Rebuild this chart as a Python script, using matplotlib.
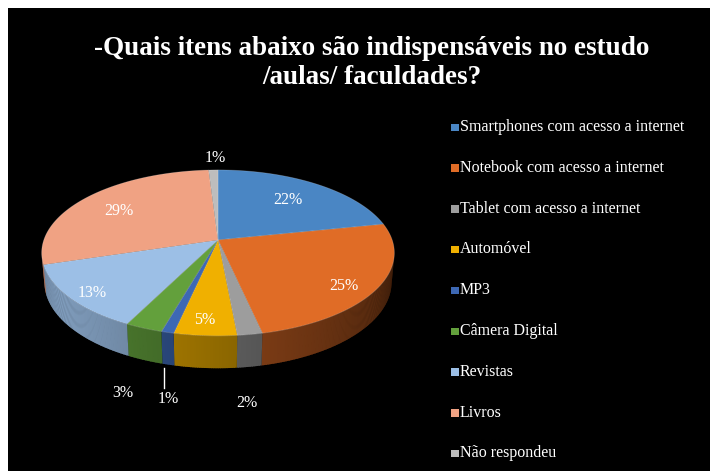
import numpy as np
import matplotlib.pyplot as plt
from matplotlib.patches import Polygon, Rectangle
from matplotlib.colors import to_rgb

# dados da pesquisa (%)
categorias = ["Smartphones com acesso a internet", "Notebook com acesso a internet",
              "Tablet com acesso a internet", "Automóvel", "MP3", "Câmera Digital",
              "Revistas", "Livros", "Não respondeu"]
valores = [22, 25, 2, 5, 1, 3, 13, 29, 1]
cores = ["#4a86c4", "#e06c26", "#9d9d9d", "#f0b000", "#3d68b4", "#63a03c",
         "#9cbfe6", "#f0a283", "#bdbdbd"]
titulo = "-Quais itens abaixo são indispensáveis no estudo\n/aulas/ faculdades?"

plt.rcParams['font.family'] = ['Liberation Serif', 'DejaVu Serif']

W, H = 710, 471
fig = plt.figure(figsize=(W / 100, H / 100), dpi=100, facecolor='white')
ax = fig.add_axes([0, 0, 1, 1])
ax.set_xlim(0, W)
ax.set_ylim(H, 0)
ax.axis('off')
ax.add_patch(Rectangle((8, 8), W - 8, H - 8, facecolor='black', edgecolor='none'))

# projecao em perspectiva do disco
phi = np.radians(27.7)
dist = 5.7
esp = 0.19
cx, cy, S = 218, 240, 993


def proj(r, th, z=0.0):
    x = r * np.cos(th)
    y = r * np.sin(th)
    d = dist + y * np.cos(phi) - z * np.sin(phi)
    xs = x / d
    ys = (y * np.sin(phi) + z * np.cos(phi)) / d
    return cx + S * xs, cy - S * ys


def escurecer(c, f):
    r, g, b = to_rgb(c)
    return (r * f, g * f, b * f)


total = sum(valores)
frac = np.array(valores) / total
ini = np.concatenate([[0], np.cumsum(frac)[:-1]])
th0 = np.radians(90 - ini * 360)
th1 = np.radians(90 - (ini + frac) * 360)

# paredes laterais (apenas a parte visivel), em faixas sobrepostas
passo = np.radians(0.5)
for a, b, c in zip(th0, th1, cores):
    ts = np.arange(a, b, -passo)
    ts = np.append(ts, b)
    for t1, t2 in zip(ts[:-1], ts[1:]):
        tm = 0.5 * (t1 + t2)
        if np.sin(tm) > -1 / (dist * np.cos(phi)):
            continue
        t2b = max(t2 - passo * 0.6, b)
        f = 0.60 - 0.26 * np.cos(tm)
        pts = [proj(1, t1), proj(1, t2b), proj(1, t2b, -esp), proj(1, t1, -esp)]
        ax.add_patch(Polygon(pts, closed=True, facecolor=escurecer(c, f),
                             edgecolor='none', lw=0))

# face superior
for a, b, c in zip(th0, th1, cores):
    ts = np.linspace(a, b, max(int(abs(b - a) / passo), 2))
    pts = [proj(0, 0)] + [proj(1, t) for t in ts]
    ax.add_patch(Polygon(pts, closed=True, facecolor=c, edgecolor=(1, 1, 1, 0.2), lw=0.6))

# rotulos de porcentagem
meio = 0.5 * (th0 + th1)
# (raio, altura, dx, dy) de cada rotulo
pos_rot = [(0.66, 0, 3, -2), (0.80, 0, 0, 8), (1.0, -esp, -2, 36), (0.86, 0, -3, 0),
           (1.0, -esp, 0, 34), (1.0, -esp, -22, 33), (0.86, 0, 0, 4), (0.74, 0, 0, 3),
           (1.12, 0, 2, -5)]
for m, v, (r, z, dx, dy) in zip(meio, valores, pos_rot):
    x, y = proj(r, m, z)
    ax.text(x + dx, y + dy, f"{round(100 * v / total)}%", color='white',
            fontsize=11.5, ha='center', va='center')

# linha guia do MP3
xg, yg = proj(1.0, meio[4], -esp)
ax.plot([xg - 4, xg - 4], [yg + 3, yg + 23], color='white', lw=1)

# titulo
ax.text(372, 63, titulo, color='white', fontsize=19.5, fontweight='bold',
        ha='center', va='center', linespacing=1.2)

# legenda
lx, ly, esp_leg = 451, 127, 40.8
for i, (nome, c) in enumerate(zip(categorias, cores)):
    y = ly + i * esp_leg
    ax.add_patch(Rectangle((lx, y - 3.5), 7.5, 7.5, facecolor=c, edgecolor='none'))
    ax.text(lx + 9, y, nome, color='white', fontsize=11.5, ha='left', va='center')

fig.savefig("out.png", dpi=100, facecolor=fig.get_facecolor())
